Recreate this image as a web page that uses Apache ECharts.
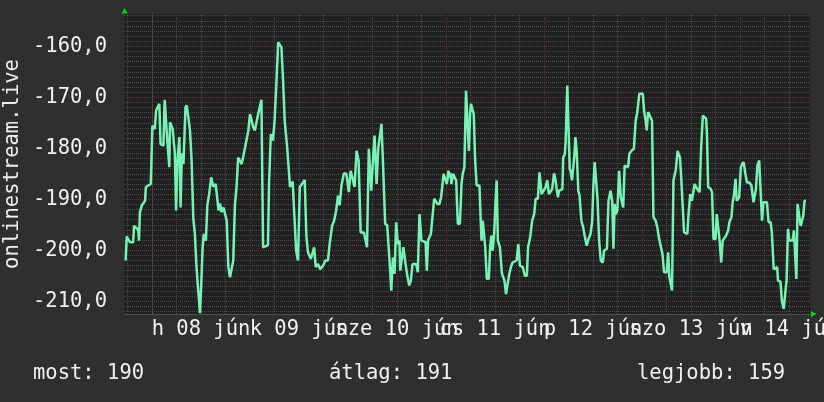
<!DOCTYPE html>
<html>
<head>
<meta charset="utf-8">
<script src="https://cdn.jsdelivr.net/npm/echarts@6/dist/echarts.min.js"></script>
<style>
  html, body { margin: 0; padding: 0; background: #2f2f2f; }
  #chart { width: 824px; height: 402px; }
</style>
</head>
<body>
<div id="chart"></div>
<script>
// nap címkék (déli időpontban középre igazítva)
const dayLabels = ['h 08 jún', 'k 09 jún', 'sze 10 jún', 'cs 11 jún', 'p 12 jún', 'szo 13 jún', 'v 14 jún'];
const labelHours = [12, 36, 60, 84, 108, 132, 156];
const yLabelValues = [-210, -200, -190, -180, -170, -160];

// órák jún 08 00:00-tól
const hours = [
  -6.45, -6.2, -5.4, -4.6, -4.4, -3.35, -3.2, -2.95, -2.5, -1.7, -1.5, -0.3,
  0.1, 0.7, 1.0, 1.8, 2.1, 2.8, 3.1, 3.4, 3.75, 4.25, 4.4, 5.05, 5.6, 5.9,
  6.2, 6.7, 7.0, 7.3, 7.7, 8.2, 8.5, 8.9, 9.3, 9.7, 10.1, 10.5, 10.9, 11.3,
  11.75, 12.0, 12.4, 12.7, 13.2, 13.55, 14.0, 14.5, 15.0, 15.6, 16.0, 16.3,
  16.65, 17.0, 17.5, 17.9, 18.3, 18.7, 19.1, 19.5, 19.9, 20.3, 20.7, 21.1,
  21.55, 21.95, 22.4, 22.8, 23.6, 24.0, 24.4, 24.8, 25.2, 26.0,
  26.8, 27.2, 28.4, 28.65, 29.1, 29.6, 30.0, 30.45, 30.9, 31.7, 32.1, 32.5,
  33.1, 33.5, 33.8, 34.45, 34.8, 35.3, 35.75, 36.2, 37.4, 37.8, 38.2, 38.9,
  39.3, 39.7, 40.1, 40.65, 41.2, 41.9, 42.45, 43.1, 43.5, 44.1, 44.6, 45.1,
  45.55, 45.95, 46.4, 47.0, 47.6, 48.2, 48.65, 49.15, 49.6, 50.1, 50.6, 51.1,
  51.9, 52.65, 53.1, 53.7, 54.2, 54.5, 55.0, 55.4, 56.2, 56.7, 57.1, 57.6,
  58.2, 58.6, 59.0, 59.4, 59.8,
  60.2, 60.6, 60.8, 61.2, 61.55, 61.8, 62.2, 62.6, 63.0, 63.4, 63.8, 64.7,
  65.1, 65.5, 65.7, 66.0, 67.0, 67.3, 67.6, 67.9, 68.3, 68.7, 69.1, 69.4,
  69.9, 70.4, 70.8, 71.2, 71.4, 71.8, 72.2, 72.6, 72.8, 73.1, 73.3, 73.8,
  74.1, 74.5, 74.7, 74.9, 75.4, 75.8, 76.1, 76.5, 76.9, 77.3, 77.6, 77.9,
  78.1, 78.5, 78.8, 79.1, 79.5, 80.2, 80.5, 80.7, 81.0, 81.4, 81.6, 82.0,
  82.5, 82.8, 83.1, 83.4, 83.8, 84.1, 84.4, 84.7, 85.2, 85.7, 86.3, 86.7,
  87.1, 87.5, 87.9, 88.3, 89.3, 89.7, 90.1, 90.8, 91.3, 91.8, 92.1, 92.6,
  93.1, 93.6,
  93.95, 94.5, 94.9, 95.2, 95.4, 95.8, 96.4, 96.8, 97.2, 98.0, 98.45, 98.85,
  99.1, 99.4, 99.7, 100.5, 100.7, 101.1, 101.3, 101.55, 101.7, 101.95, 102.3,
  102.5, 102.85, 103.2, 103.4, 103.7, 104.0, 104.4, 104.7, 105.15, 105.6,
  105.95, 106.45, 106.9, 107.4, 107.8, 108.1, 108.4, 108.7, 109.1, 109.5,
  109.9, 110.4, 110.7, 111.4, 111.8, 112.3, 112.7, 113.0, 113.3, 113.55,
  113.95, 114.4, 114.8, 115.1, 115.4, 115.75, 116.6, 116.9, 117.4, 118.0,
  118.45, 118.85, 119.35, 119.8, 120.2, 120.5, 120.9, 121.15, 121.5, 121.95,
  122.45, 122.8, 123.35, 123.75, 124.2, 124.6, 125.0, 125.4, 126.05, 126.4,
  126.7, 127.0, 127.35,
  127.7, 128.0, 128.3, 128.7, 129.0, 129.3, 129.6, 130.0, 130.3, 131.1, 131.4,
  131.8, 132.2, 132.65, 132.9, 133.2, 134.1, 134.45, 134.9, 135.35, 135.7,
  135.9, 136.2, 136.75, 137.15, 137.5, 138.0, 138.3, 138.6, 139.0, 139.4,
  139.75, 140.6, 141.1, 141.4, 141.9, 142.2, 142.5, 142.9, 143.2, 143.8,
  144.2, 144.5, 144.9, 145.3, 145.7, 146.3, 146.8, 147.3, 147.6, 147.9,
  148.25, 148.7, 149.1, 149.4, 149.7, 150.6, 151.0, 151.5, 151.8, 152.25,
  153.1, 153.3, 153.9, 154.3, 154.7, 155.1, 155.4, 155.75, 156.1, 156.9,
  157.2, 157.55, 157.8, 158.1, 158.5, 158.85, 159.2, 159.5, 159.8, 160.15
];
const values = [
  -202.0, -197.3, -198.4, -198.4, -195.2, -196.0, -198.1, -192.5, -191.2, -190.3, -187.6, -187.0,
  -175.6, -176.2, -172.6, -171.3, -179.2, -179.5, -170.5, -170.5, -178.5, -183.7, -174.9, -176.2, -181.0, -192.2,
  -183.1, -177.8, -191.6, -181.0, -183.1, -172.0, -171.6, -173.9, -176.5, -182.4, -193.5, -196.8, -203.3, -207.6,
  -212.3, -207.9, -199.4, -196.8, -198.1, -191.2, -189.0, -185.7, -187.5, -187.0, -187.3, -192.2,
  -190.8, -192.5, -191.6, -192.9, -194.2, -203.3, -205.3, -205.3, -202.0, -191.2, -187.6, -181.8,
  -181.5, -183.1, -181.4, -179.8, -176.5, -173.3, -173.6, -175.9, -176.5, -173.3,
  -170.5, -199.4, -199.0, -187.3, -177.2, -178.5, -174.9, -167.4, -159.2, -160.2, -166.7, -174.6,
  -179.8, -179.8, -187.6, -186.5, -192.2, -200.1, -202.0, -187.6, -186.2, -197.1, -200.4, -201.7,
  -202.0, -199.4, -203.3, -202.7, -203.7, -203.0, -202.0, -202.0, -198.8, -195.2, -194.2, -192.2,
  -189.3, -191.2, -187.3, -184.9, -185.0, -188.6, -184.4, -186.0, -187.6, -180.5, -182.4, -196.5,
  -196.5, -199.4, -180.1, -188.3, -181.1, -177.5, -187.0, -180.0, -175.2, -185.7, -194.8, -195.1,
  -202.4, -207.9, -201.4, -204.6, -194.5,
  -198.8, -198.1, -204.0, -204.0, -199.4, -199.4, -203.3, -205.3, -206.9, -205.9, -202.7, -202.7,
  -204.3, -192.9, -192.9, -198.1, -198.4, -204.0, -198.1, -198.1, -196.8, -196.8, -189.9, -189.9,
  -190.9, -190.9, -189.6, -189.6, -185.0, -186.0, -187.0, -184.4, -185.7, -184.8, -187.0, -185.0,
  -185.7, -186.3, -190.9, -194.8, -194.8, -187.0, -185.0, -183.7, -168.7, -169.0, -180.5, -173.3,
  -171.3, -171.3, -173.3, -181.8, -187.3, -187.3, -194.2, -198.1, -194.2, -194.2, -199.4, -205.6,
  -205.6, -199.4, -197.1, -200.1, -196.8, -190.9, -186.3, -198.1, -199.4, -204.6, -205.9, -208.6,
  -208.9, -204.6, -203.3, -202.4, -202.0, -198.8, -203.0, -203.3, -205.0, -205.0, -199.4, -197.5,
  -194.2, -192.9,
  -189.9, -189.9, -184.7, -184.7, -189.0, -188.7, -187.6, -186.3, -189.0, -188.0, -184.9, -186.3,
  -188.0, -189.6, -188.3, -188.0, -181.8, -181.1, -178.8, -178.8, -167.7, -167.7, -184.0,
  -184.4, -186.3, -186.3, -181.8, -177.8, -180.5, -188.3, -189.3, -194.2, -195.5,
  -197.1, -199.1, -197.8, -196.8, -194.2, -187.3, -182.7, -182.7, -189.9, -198.1,
  -202.0, -202.4, -200.1, -199.7, -190.3, -188.3, -190.3, -199.7, -190.9, -192.9,
  -192.3, -184.4, -189.6, -189.9, -191.6, -183.4, -183.7, -181.1, -180.5, -180.1,
  -174.6, -172.9, -169.3, -169.2, -169.3, -172.6, -174.6, -176.5, -172.9, -172.9,
  -174.6, -193.5, -194.2, -195.5, -197.8, -198.1, -200.7, -204.3, -204.3, -200.4,
  -205.3, -205.3, -207.9,
  -186.3, -186.3, -184.1, -180.5, -180.5, -181.8, -185.7, -185.7, -196.5, -196.8, -192.9,
  -189.0, -190.3, -190.3, -187.0, -187.6, -188.6, -180.5, -173.6, -173.6, -174.2,
  -177.2, -187.6, -187.9, -188.6, -197.8, -197.8, -192.9, -193.2, -198.1, -202.4,
  -198.1, -197.1, -196.1, -194.5, -193.5, -190.6, -189.3, -186.0, -190.3, -189.6,
  -183.7, -183.1, -182.7, -185.0, -186.7, -186.7, -187.3, -190.6, -190.3, -188.0,
  -183.4, -182.4, -182.1, -194.2, -190.6, -190.6, -194.5, -194.5, -196.5, -203.7,
  -203.3, -205.9, -206.2, -210.2, -211.5, -211.5, -205.9, -195.8, -198.1, -198.1,
  -196.1, -196.1, -205.6, -190.9, -190.9, -195.2, -195.2, -193.2, -190.3, -190.3
];
const avgText = '191';

const font = 'DejaVu Sans Mono';
const textColor = '#f0f0f0';
const redGrid = '#6a2e2e';
const greyGrid = '#4a4a4a';

const seriesData = hours.map((h, i) => [h, values[i]]);
const lastVal = Math.round(-values[values.length - 1]);
const bestVal = Math.round(-Math.max(...values));

// rácsvonalak
let gridLines = [];
for (let v = -212; v <= -154; v++) {
  let major = v % 10 === 0;
  gridLines.push({ yAxis: v, lineStyle: { color: major ? redGrid : greyGrid, type: [1, 1], width: 1 } });
}
for (let h = -6; h <= 160; h += 6) {
  let major = h % 24 === 0;
  gridLines.push({ xAxis: h, lineStyle: { color: major ? redGrid : greyGrid, type: [1, 1], width: 1 } });
}

// a címkék két tengelyre bontva, hogy egyik se rejtse el a szomszédját
const labelsA = labelHours.filter((h, i) => i % 2 === 0);
const labelsB = labelHours.filter((h, i) => i % 2 === 1);

function dayAxis(vals, showLine) {
  return {
    type: 'value',
    position: 'bottom',
    offset: 0,
    min: -6.857,
    max: 161.14,
    splitLine: { show: false },
    axisLine: { show: showLine, lineStyle: { color: '#505050', width: 1 } },
    axisTick: { show: false },
    axisLabel: {
      customValues: vals,
      formatter: function (v) { return dayLabels[Math.round((v - 12) / 24)]; },
      showMinLabel: true,
      showMaxLabel: true,
      hideOverlap: false,
      color: textColor,
      fontFamily: font,
      fontSize: 20.5,
      margin: 5
    }
  };
}

let myChart = echarts.init(document.getElementById('chart'));
let option = {
  backgroundColor: '#2f2f2f',
  animation: false,
  grid: {
    left: 124, top: 14, width: 686, height: 300,
    show: true, backgroundColor: '#212121', borderWidth: 0,
    outerBoundsMode: 'none'
  },
  xAxis: [dayAxis(labelsA, true), dayAxis(labelsB, false)],
  yAxis: {
    type: 'value',
    min: -212.49,
    max: -153.67,
    splitLine: { show: false },
    axisLine: { show: true, lineStyle: { color: '#505050', width: 1 } },
    axisTick: { show: false },
    axisLabel: {
      customValues: yLabelValues,
      formatter: function (v) { return v.toFixed(1).replace('.', ','); },
      showMinLabel: true,
      showMaxLabel: true,
      color: textColor,
      fontFamily: font,
      fontSize: 20.5,
      margin: 17
    }
  },
  series: [
    {
      type: 'line',
      data: [],
      z: 1,
      silent: true,
      markLine: {
        z: 1,
        silent: true,
        symbol: 'none',
        label: { show: false },
        emphasis: { disabled: true },
        data: gridLines
      }
    },
    {
      type: 'line',
      data: seriesData,
      z: 10,
      showSymbol: false,
      lineStyle: { color: '#76f2b5', width: 2.5 },
      itemStyle: { color: '#76f2b5' }
    }
  ],
  graphic: [
    {
      type: 'text', x: 13, y: 164, rotation: Math.PI / 2,
      style: { text: 'onlinestream.live', fontFamily: font, fontSize: 20.5, fill: textColor, align: 'center', verticalAlign: 'middle' }
    },
    {
      type: 'text', x: 33, y: 374,
      style: { text: 'most: ' + lastVal, fontFamily: font, fontSize: 20.5, fill: textColor, verticalAlign: 'middle' }
    },
    {
      type: 'text', x: 329, y: 374,
      style: { text: 'átlag: ' + avgText, fontFamily: font, fontSize: 20.5, fill: textColor, verticalAlign: 'middle' }
    },
    {
      type: 'text', x: 637, y: 374,
      style: { text: 'legjobb: ' + bestVal, fontFamily: font, fontSize: 20.5, fill: textColor, verticalAlign: 'middle' }
    },
    {
      type: 'polygon',
      shape: { points: [[121.5, 13.5], [127.5, 13.5], [124.5, 8]] },
      style: { fill: '#00dd00' }
    },
    {
      type: 'polygon',
      shape: { points: [[811, 311], [811, 317], [816.5, 314]] },
      style: { fill: '#00dd00' }
    }
  ]
};
myChart.setOption(option);
</script>
</body>
</html>
